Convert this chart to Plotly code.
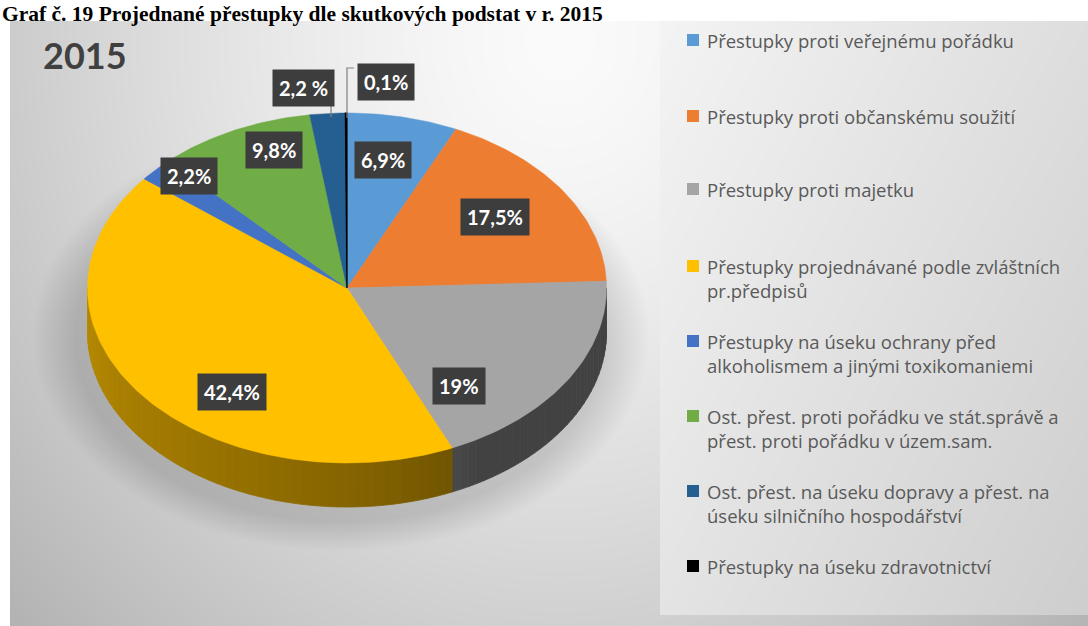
import base64
import struct
import zlib

import numpy as np
import plotly.graph_objects as go

# ---------------- data ----------------
categories = [
    "Přestupky proti veřejnému pořádku",
    "Přestupky proti občanskému soužití",
    "Přestupky proti majetku",
    "Přestupky projednávané podle zvláštních<br>pr.předpisů",
    "Přestupky na úseku ochrany před<br>alkoholismem a jinými toxikomaniemi",
    "Ost. přest. proti pořádku ve stát.správě a<br>přest. proti pořádku v územ.sam.",
    "Ost. přest. na úseku dopravy a přest. na<br>úseku silničního hospodářství",
    "Přestupky na úseku zdravotnictví",
]
values = [6.9, 17.5, 19.0, 42.4, 2.2, 9.8, 2.2, 0.1]
value_labels = ["6,9%", "17,5%", "19%", "42,4%", "2,2%", "9,8%", "2,2 %", "0,1%"]
colors = ["#5b9bd5", "#ed7d31", "#a5a5a5", "#ffc000", "#4472c4", "#70ad47", "#255e91", "#000000"]
chart_title = "Graf č. 19 Projednané přestupky dle skutkových podstat v r. 2015"
year_title = "2015"

# ---------------- layout constants (pixels) ----------------
W, H = 1088, 626
CX, CY = 347.0, 288.0
RX, RY = 259.5, 175.0
DEPTH = 44.0
FRAME_X0, FRAME_Y0 = 10, 21
LEG_X0, LEG_Y1 = 660, 615
label_pos = [(383, 160), (495, 217), (459, 386), (232, 392),
             (189, 176), (274, 150), (303, 88), (386, 82)]
legend_y = [40, 116, 189, 266, 341, 416, 491, 566]


def png_gray_datauri(arr):
    h, w = arr.shape
    raw = b"".join(b"\x00" + arr[i].tobytes() for i in range(h))

    def chunk(t, d):
        c = struct.pack(">I", len(d)) + t + d
        return c + struct.pack(">I", zlib.crc32(t + d) & 0xFFFFFFFF)

    png = (b"\x89PNG\r\n\x1a\n"
           + chunk(b"IHDR", struct.pack(">IIBBBBB", w, h, 8, 0, 0, 0, 0))
           + chunk(b"IDAT", zlib.compress(raw, 9))
           + chunk(b"IEND", b""))
    return "data:image/png;base64," + base64.b64encode(png).decode()


# background of the chart frame (radial-ish gradient + pie shadow + legend box)
fw, fh = W - FRAME_X0, H - FRAME_Y0
xs = np.arange(fw)[None, :] + FRAME_X0 + 0.5
ys = np.arange(fh)[:, None] + FRAME_Y0 + 0.5
r = np.sqrt(((xs - 560) / 560.0) ** 2 + ((ys - 40) / 640.0) ** 2)
bg = 251 - 48 * np.clip(r, 0, 1.4) ** 1.4
leg = (xs >= LEG_X0) & (ys <= LEG_Y1)
legv = 244 - 22 * ((xs - LEG_X0) / (W - LEG_X0)) - 16 * ((ys - FRAME_Y0) / (LEG_Y1 - FRAME_Y0))
bg = np.where(leg, legv, bg)
d = np.sqrt(((xs - (CX - 6)) / (RX + 14)) ** 2 + ((ys - (CY + DEPTH + 4)) / (RY + 16)) ** 2)
shadow = 30 * np.clip((1.13 - d) / 0.16, 0, 1)
bg = np.where(leg, bg, bg - shadow)
bg_img = png_gray_datauri(np.clip(bg, 0, 255).astype(np.uint8))


def shade(hex_color, f):
    h = hex_color.lstrip("#")
    rgb = [int(h[i:i + 2], 16) for i in (0, 2, 4)]
    return "rgb({},{},{})".format(*[int(round(c * f)) for c in rgb])


def ell(theta_deg, dy=0.0):
    t = np.radians(theta_deg)
    return CX + RX * np.sin(t), CY - RY * np.cos(t) + dy


total = sum(values)
bounds = np.concatenate([[0], np.cumsum(values)]) / total * 360.0

fig = go.Figure()

# side walls (front half only: 90..270 degrees clockwise from top)
for i, (a, b) in enumerate(zip(bounds[:-1], bounds[1:])):
    lo, hi = max(a, 90.0), min(b, 270.0)
    if hi <= lo:
        continue
    steps = np.arange(lo, hi, 2.0).tolist() + [hi]
    for s0, s1 in zip(steps[:-1], steps[1:]):
        tm = 0.5 * (s0 + s1)
        f = 0.40 + 0.32 * np.clip((tm - 150) / 120.0, 0, 1) ** 0.7
        th = np.linspace(s0, s1, 4)
        xt, yt = ell(th)
        xb, yb = ell(th[::-1], DEPTH)
        c = shade(colors[i], f)
        fig.add_trace(go.Scatter(
            x=np.concatenate([xt, xb, xt[:1]]), y=np.concatenate([yt, yb, yt[:1]]),
            mode="lines", fill="toself", fillcolor=c,
            line=dict(color=c, width=0.8), hoverinfo="skip", showlegend=False))

# top faces
for i, (a, b) in enumerate(zip(bounds[:-1], bounds[1:])):
    n = max(3, int((b - a) / 1.0) + 2)
    th = np.linspace(a, b, n)
    xa, ya = ell(th)
    fig.add_trace(go.Scatter(
        x=np.concatenate([[CX], xa, [CX]]), y=np.concatenate([[CY], ya, [CY]]),
        mode="lines", fill="toself", fillcolor=colors[i],
        line=dict(color=colors[i], width=1.2 if values[i] < 0.5 else 0.5),
        name=categories[i].replace("<br>", " "), hoverinfo="name+text",
        text=value_labels[i], showlegend=False))

shapes = []
# leader lines
shapes.append(dict(type="line", xref="x", yref="y", x0=331, y0=103, x1=331, y1=117,
                   line=dict(color="#808080", width=1.2)))
shapes.append(dict(type="path", xref="x", yref="y", path="M 347 118 L 347 68 L 354 68",
                   line=dict(color="#808080", width=1.2)))

annotations = []
for txt, (lx, ly) in zip(value_labels, label_pos):
    annotations.append(dict(
        x=lx, y=ly, xref="x", yref="y", text="<b>%s</b>" % txt, showarrow=False,
        font=dict(family="Lato, 'Open Sans', sans-serif", size=20, color="white"),
        bgcolor="#3d3d3d", borderpad=6, xanchor="center", yanchor="middle"))

# legend (squares + text)
for i, (cat, ly) in enumerate(zip(categories, legend_y)):
    shapes.append(dict(type="rect", xref="x", yref="y", x0=687, x1=699, y0=ly - 6, y1=ly + 6,
                       fillcolor=colors[i], line=dict(width=0)))
    annotations.append(dict(
        x=705, y=ly - 14, xref="x", yref="y", text=cat, showarrow=False, align="left",
        xanchor="left", yanchor="top",
        font=dict(family="'Open Sans', Lato, sans-serif", size=18.5, color="#595959")))

# year title
annotations.append(dict(x=41, y=55, xref="x", yref="y", text="<b>%s</b>" % year_title,
                        showarrow=False, xanchor="left", yanchor="middle",
                        font=dict(family="Lato, 'Open Sans', sans-serif", size=36, color="#404040")))
# document caption at the very top
annotations.append(dict(x=0, y=0, xref="paper", yref="y", text="<b>%s</b>" % chart_title,
                        showarrow=False, xanchor="left", yanchor="top",
                        font=dict(family="'Liberation Serif', 'Times New Roman', serif", size=21.5,
                                  color="black")))

fig.update_layout(
    width=W, height=H, margin=dict(l=0, r=0, t=0, b=0),
    paper_bgcolor="white", plot_bgcolor="rgba(0,0,0,0)",
    xaxis=dict(range=[0, W], visible=False, fixedrange=True),
    yaxis=dict(range=[H, 0], visible=False, fixedrange=True),
    showlegend=False, shapes=shapes, annotations=annotations,
    images=[dict(source=bg_img, xref="paper", yref="paper",
                 x=FRAME_X0 / W, y=1 - FRAME_Y0 / H, sizex=fw / W, sizey=fh / H,
                 xanchor="left", yanchor="top", sizing="stretch", layer="below")],
)

fig.write_html("out.html", config={"displayModeBar": False},
               post_script="document.body.style.margin='0px';document.body.style.overflow='hidden';")
